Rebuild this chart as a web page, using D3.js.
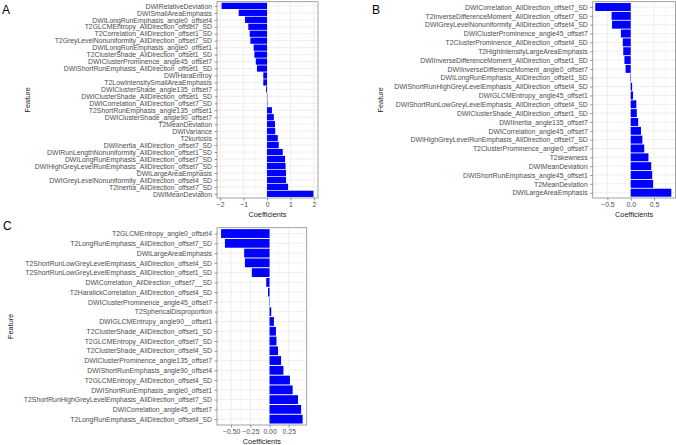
<!DOCTYPE html>
<html>
<head>
<meta charset="utf-8">
<script src="https://cdn.jsdelivr.net/npm/d3@7"></script>
<style>
body { margin: 0; background: #fff; }
svg { display: block; font-family: "Liberation Sans", Arial, sans-serif; }
</style>
</head>
<body>
<svg width="676" height="445"></svg>
<script>
// panel A (top to bottom)
var featuresA = [
	"DWIRelativeDeviation", "DWISmallAreaEmphasis", "DWILongRunEmphasis_angle0_offset4",
	"T2GLCMEntropy_AllDirection_offset7_SD", "T2Correlation_AllDirection_offset1_SD",
	"T2GreyLevelNonuniformity_AllDirection_offset7_SD", "DWILongRunEmphasis_angle0_offset1",
	"T2ClusterShade_AllDirection_offset1_SD", "DWIClusterProminence_angle45_offset7",
	"DWIShortRunEmphasis_AllDirection_offset1_SD", "DWIHaraEntroy", "T2LowIntensitySmallAreaEmphasis",
	"DWIClusterShade_angle135_offset7", "DWIClusterShade_AllDirection_offset1_SD",
	"DWICorrelation_AllDirection_offset7_SD", "T2ShortRunEmphasis_angle135_offset1",
	"DWIClusterShade_angle90_offset7", "T2MeanDeviation", "DWIVariance", "T2kurtosis",
	"DWIInertia_AllDirection_offset7_SD", "DWIRunLengthNonuniformity_AllDirection_offset1_SD",
	"DWILongRunEmphasis_AllDirection_offset7_SD", "DWIHighGreyLevelRunEmphasis_AllDirection_offset7_SD",
	"DWILargeAreaEmphasis", "DWIGreyLevelNonuniformity_AllDirection_offset4_SD",
	"T2Inertia_AllDirection_offset7_SD", "DWIMeanDeviation"
];
var coefsA = [-1.94, -1.21, -0.94, -0.80, -0.74, -0.71, -0.57, -0.54, -0.48, -0.43, -0.16, -0.16,
	-0.04, -0.005, 0.005, 0.21, 0.29, 0.34, 0.35, 0.46, 0.50, 0.67, 0.77, 0.79, 0.81, 0.81, 0.90, 1.98];
var ticksA = [-2, -1, 0, 1, 2];

// panel B
var featuresB = [
	"DWICorrelation_AllDirection_offset7_SD", "T2InverseDifferenceMoment_AllDirection_offset7_SD",
	"DWIGreyLevelNonuniformity_AllDirection_offset4_SD", "DWIClusterProminence_angle45_offset7",
	"T2ClusterProminence_AllDirection_offset4_SD", "T2HighIntensityLargeAreaEmphasis",
	"DWIInverseDifferenceMoment_AllDirection_offset1_SD", "DWIInverseDifferenceMoment_angle0_offset7",
	"DWILongRunEmphasis_AllDirection_offset1_SD", "DWIShortRunHighGreyLevelEmphasis_AllDirection_offset4_SD",
	"DWIGLCMEntropy_angle45_offset1", "DWIShortRunLowGreyLevelEmphasis_AllDirection_offset4_SD",
	"DWIClusterShade_AllDirection_offset1_SD", "DWIInertia_angle135_offset7",
	"DWICorrelation_angle45_offset7", "DWIHighGreyLevelRunEmphasis_AllDirection_offset7_SD",
	"T2ClusterProminence_angle0_offset7", "T2skewness", "DWIMeanDeviation",
	"DWIShortRunEmphasis_angle45_offset1", "T2MeanDeviation", "DWILargeAreaEmphasis"
];
var coefsB = [-0.76, -0.41, -0.40, -0.21, -0.17, -0.16, -0.135, -0.11, -0.01, 0.03, 0.05, 0.12,
	0.13, 0.16, 0.22, 0.25, 0.29, 0.38, 0.44, 0.46, 0.48, 0.87];
var ticksB = [-0.5, 0, 0.5];

// panel C
var featuresC = [
	"T2GLCMEntropy_angle0_offset4", "T2LongRunEmphasis_AllDirection_offset7_SD", "DWILargeAreaEmphasis",
	"T2ShortRunLowGreyLevelEmphasis_AllDirection_offset4_SD", "T2ShortRunLowGreyLevelEmphasis_AllDirection_offset1_SD",
	"DWICorrelation_AllDirection_offset7__SD", "T2HaralickCorrelation_AllDirection_offset4_SD",
	"DWIClusterProminence_angle45_offset7", "T2SphericalDisproportion", "DWIGLCMEntropy_angle90__offset1",
	"T2ClusterShade_AllDirection_offset1_SD", "T2GLCMEntropy_AllDirection_offset7_SD",
	"T2ClusterShade_AllDirection_offset4_SD", "DWIClusterProminence_angle135_offset7",
	"DWIShortRunEmphasis_angle90_offset4", "T2GLCMEntropy_AllDirection_offset4_SD",
	"DWIShortRunEmphasis_angle0_offset1", "T2ShortRunHighGreyLevelEmphasis_AllDirection_offset7_SD",
	"DWICorrelation_angle45_offset7", "T2LongRunEmphasis_AllDirection_offset4_SD"
];
var coefsC = [-0.63, -0.58, -0.33, -0.32, -0.23, -0.043, -0.02, 0.003, 0.022, 0.057, 0.083, 0.09,
	0.11, 0.15, 0.18, 0.265, 0.30, 0.37, 0.41, 0.43];
var ticksC = [-0.5, -0.25, 0, 0.25];

var svg = d3.select("svg");
var fontSz = 6.85;

var panels = [
	{tag: "A", features: featuresA, coefs: coefsA, ticks: ticksA, fmt: d3.format("d"),
		x0: 217, x1: 318, y0: 1.7, y1: 198, dom: [-2.136, 2.176], featX: 27, tagX: 2, tagY: 14},
	{tag: "B", features: featuresB, coefs: coefsB, ticks: ticksB, fmt: d3.format(".1f"),
		x0: 592.7, x1: 675.5, y0: 1.7, y1: 198, dom: [-0.815, 0.96], featX: 380, tagX: 372, tagY: 13.5},
	{tag: "C", features: featuresC, coefs: coefsC, ticks: ticksC, fmt: d3.format(".2f"),
		x0: 217, x1: 306.7, y0: 227.7, y1: 425, dom: [-0.683, 0.483], featX: 10, tagX: 3, tagY: 230}
];

panels.forEach(function (p) {
	var x = d3.scaleLinear().domain(p.dom).range([p.x0, p.x1]);
	var y = d3.scalePoint().domain(p.features).range([p.y0, p.y1]).padding(0.6);
	var step = y.step();

	var g = svg.append("g");

	// minor grid (half way between major ticks)
	var tstep = p.ticks[1] - p.ticks[0];
	var minor = [];
	for (var i = -1; i < p.ticks.length; i++) {
		var m = p.ticks[0] + (i + 0.5) * tstep;
		if (m > p.dom[0] && m < p.dom[1]) minor.push(m);
	}
	g.selectAll(".minor").data(minor).enter().append("line")
		.attr("x1", d => x(d)).attr("x2", d => x(d))
		.attr("y1", p.y0).attr("y2", p.y1)
		.attr("stroke", "#f2f2f2").attr("stroke-width", 0.5);

	g.selectAll(".majx").data(p.ticks).enter().append("line")
		.attr("x1", d => x(d)).attr("x2", d => x(d))
		.attr("y1", p.y0).attr("y2", p.y1)
		.attr("stroke", "#ebebeb").attr("stroke-width", 0.8);

	g.selectAll(".majy").data(p.features).enter().append("line")
		.attr("x1", p.x0).attr("x2", p.x1)
		.attr("y1", d => y(d)).attr("y2", d => y(d))
		.attr("stroke", "#ebebeb").attr("stroke-width", 0.8);

	// bars
	g.selectAll(".bar").data(p.features).enter().append("rect")
		.attr("x", (d, i) => x(Math.min(0, p.coefs[i])))
		.attr("width", (d, i) => Math.max(0.4, Math.abs(x(p.coefs[i]) - x(0))))
		.attr("y", d => y(d) - step * 0.45)
		.attr("height", step * 0.9)
		.attr("fill", "#0000ff");

	// border
	g.append("rect")
		.attr("x", p.x0).attr("y", p.y0)
		.attr("width", p.x1 - p.x0).attr("height", p.y1 - p.y0)
		.attr("fill", "none").attr("stroke", "#8c8c8c").attr("stroke-width", 0.8);

	// y axis
	var ya = g.append("g").attr("transform", "translate(" + p.x0 + ",0)")
		.call(d3.axisLeft(y).tickSize(2.5).tickPadding(2.5));
	ya.select(".domain").remove();
	ya.selectAll("line").attr("stroke", "#333").attr("stroke-width", 0.5);
	ya.selectAll("text").attr("font-size", fontSz).attr("fill", "#4d4d4d")
		.attr("font-family", "Liberation Sans, Arial, sans-serif");

	// x axis
	var xa = g.append("g").attr("transform", "translate(0," + p.y1 + ")")
		.call(d3.axisBottom(x).tickValues(p.ticks).tickFormat(p.fmt).tickSize(2.5).tickPadding(1.5));
	xa.select(".domain").remove();
	xa.selectAll("line").attr("stroke", "#333").attr("stroke-width", 0.5);
	xa.selectAll("text").attr("font-size", fontSz).attr("fill", "#4d4d4d")
		.attr("font-family", "Liberation Sans, Arial, sans-serif");

	g.append("text")
		.attr("x", (p.x0 + p.x1) / 2).attr("y", p.y1 + 19)
		.attr("text-anchor", "middle").attr("font-size", 7.3).attr("fill", "#222")
		.text("Coefficients");

	g.append("text")
		.attr("transform", "translate(" + p.featX + "," + ((p.y0 + p.y1) / 2) + ") rotate(-90)")
		.attr("dy", "0.35em")
		.attr("text-anchor", "middle").attr("font-size", 7.3).attr("fill", "#222")
		.text("Feature");

	g.append("text")
		.attr("x", p.tagX).attr("y", p.tagY)
		.attr("font-size", 12).attr("fill", "#000")
		.text(p.tag);
});
</script>
</body>
</html>
